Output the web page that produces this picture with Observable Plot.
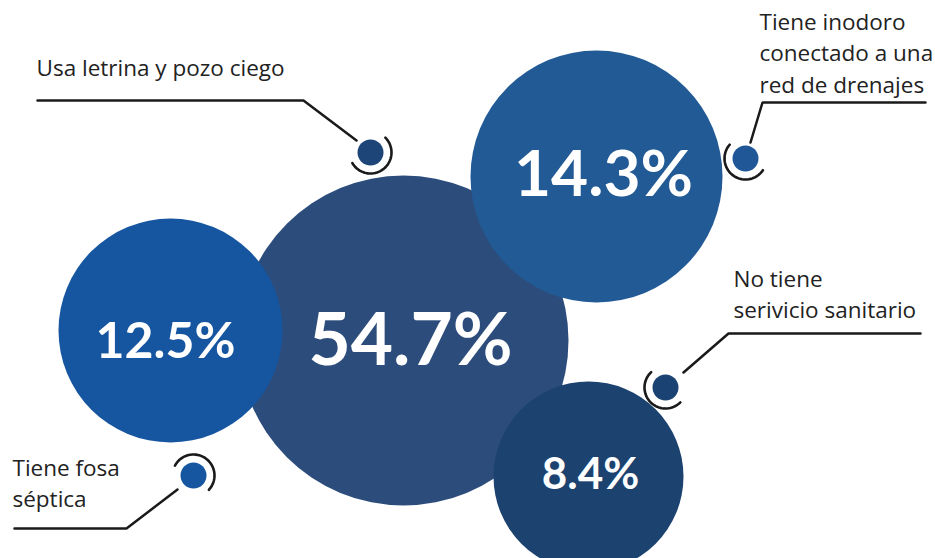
<!DOCTYPE html>
<html>
<head>
<meta charset="utf-8">
<script src="https://cdn.jsdelivr.net/npm/d3@7"></script>
<script src="https://cdn.jsdelivr.net/npm/@observablehq/plot@0.6"></script>
<style>
  html, body { margin: 0; padding: 0; background: #ffffff; }
  #chart svg { display: block; }
</style>
</head>
<body>
<div id="chart"></div>
<script>
// ---- Data ----
const categories = [
  "Usa letrina y pozo ciego",
  "Tiene inodoro\nconectado a una\nred de drenajes",
  "Tiene fosa\nséptica",
  "No tiene\nserivicio sanitario"
];
const values = [54.7, 14.3, 12.5, 8.4];
const valueLabels = ["54.7%", "14.3%", "12.5%", "8.4%"];

// ---- Layout (geometry & style, not data) ----
const bubbleX = [403, 596, 170, 588];
const bubbleY = [340, 176, 330, 476];
const bubbleR = [165, 126, 112, 95];
const bubbleFill = ["rgb(33,67,117)", "#225a96", "#1656a0", "#1c4270"];
const bubbleOpacity = [0.95, 1, 1, 1];
const drawOrder = [2, 1, 0, 3];
const pctX = [410, 603, 165, 590];
const pctY = [341, 175, 341, 474];
const pctSize = [73, 64, 50, 44];

const labelX = [36, 759, 12, 733];
const labelBaseline = [73, 27, 473, 284];
const leaderPaths = [
  [[37, 100], [303, 100], [356, 140]],
  [[925, 102], [762, 102], [750, 142]],
  [[14, 528], [126, 528], [177, 489]],
  [[920, 333], [728, 333], [683, 372]]
];
const dotX = [370, 745, 193, 665];
const dotY = [152, 158, 475, 387];
const dotFill = ["#1d4577", "#1f5797", "#1656a0", "#1a4272"];
const arcAngles = [[-45, 150], [34, 221], [-152, 43], [45, 227]];
const dotR = 13, arcR = 21;

const bubbles = drawOrder.map(i => ({
  i, x: bubbleX[i], y: bubbleY[i], r: bubbleR[i],
  fill: bubbleFill[i], op: bubbleOpacity[i], value: values[i]
}));
const pcts = values.map((v, i) => ({x: pctX[i], y: pctY[i], text: valueLabels[i], size: pctSize[i]}));
const labelFS = 22.5, labelLH = 32;
const lhRatio = labelLH / labelFS;
const labels = categories.map((c, i) => ({
  x: labelX[i],
  y: labelBaseline[i] - labelFS * (0.71 + (lhRatio - 1) / 2),
  text: c
}));
const leaders = leaderPaths.flatMap((p, k) => p.map(([x, y]) => ({k, x, y})));
const arcs = arcAngles.flatMap(([a0, a1], k) => {
  const pts = [];
  const n = 40;
  for (let j = 0; j <= n; j++) {
    const a = (a0 + (a1 - a0) * j / n) * Math.PI / 180;
    pts.push({k, x: dotX[k] + arcR * Math.cos(a), y: dotY[k] + arcR * Math.sin(a)});
  }
  return pts;
});
const dots = categories.map((c, i) => ({x: dotX[i], y: dotY[i], fill: dotFill[i]}));

const W = 935, H = 558;
const chart = Plot.plot({
  width: W, height: H,
  margin: 0,
  style: {background: "#ffffff", fontFamily: "'Open Sans', sans-serif"},
  x: {domain: [0, W], range: [0, W], axis: null},
  y: {domain: [0, H], range: [0, H], axis: null},
  r: {type: "identity"},
  marks: [
    Plot.dot(bubbles, {x: "x", y: "y", r: "r", fill: d => d.fill, fillOpacity: d => d.op, stroke: null}),
    Plot.text(pcts, {x: "x", y: "y", text: "text", fontSize: d => d.size, fontWeight: "bold",
      fill: "white", textAnchor: "middle", lineAnchor: "middle", fontFamily: "Lato, sans-serif"}),
    Plot.line(leaders, {x: "x", y: "y", z: "k", stroke: "#1a1a1a", strokeWidth: 2.5, strokeLinejoin: "miter"}),
    Plot.line(arcs, {x: "x", y: "y", z: "k", stroke: "#1a1a1a", strokeWidth: 2.6, curve: "linear"}),
    Plot.dot(dots, {x: "x", y: "y", r: dotR, fill: d => d.fill, stroke: null}),
    Plot.text(labels, {x: "x", y: "y", text: "text", textAnchor: "start", lineAnchor: "top",
      fontSize: labelFS, lineHeight: lhRatio, fill: "#222222", fontFamily: "'Open Sans', sans-serif"})
  ]
});
document.getElementById("chart").appendChild(chart);
</script>
</body>
</html>
